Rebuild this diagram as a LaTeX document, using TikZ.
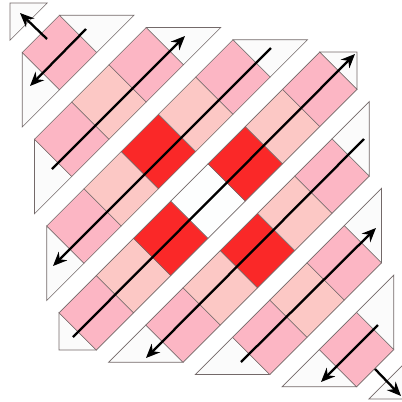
\documentclass[tikz,border=0pt]{standalone}
\usetikzlibrary{arrows.meta}
\definecolor{tricol}{RGB}{251,251,251}
\definecolor{pinkc}{RGB}{252,182,196}
\definecolor{peachc}{RGB}{252,200,197}
\definecolor{redc}{RGB}{250,40,40}
\definecolor{centerc}{RGB}{253,254,254}
\definecolor{edgec}{RGB}{115,105,105}
\tikzset{
  cell/.style={draw=edgec, line width=0.7pt, line join=miter},
  scanarrow/.style={draw=black, line width=2.3pt, -{Stealth[length=14pt,width=12pt]}},
}
\begin{document}
\begin{tikzpicture}[x=1pt,y=-1pt]
\useasboundingbox (0,0) rectangle (402,402);
\clip (0,0) rectangle (402,402);
\begin{scope}[shift={(10pt,-3pt)}, x={(37.25pt,0pt)}, y={(0pt,-37.25pt)}]
\foreach \i in {0,...,8}{
  \foreach \j in {0,...,8}{
    \pgfmathtruncatemacro\pp{mod(\i+\j,2)}
    \ifnum\pp=0\relax
      \pgfmathsetmacro\kk{(\i+\j)/2*12.25}
      \pgfmathtruncatemacro\ip{min(\i+1,8)}
      \pgfmathtruncatemacro\im{max(\i-1,0)}
      \pgfmathtruncatemacro\jp{min(\j+1,8)}
      \pgfmathtruncatemacro\jm{max(\j-1,0)}
      \pgfmathtruncatemacro\ctype{(\i==0||\i==8||\j==0||\j==8) ? 0 : ((\i==4&&\j==4) ? 3 : (((\i==3||\i==5)&&(\j==3||\j==5)) ? 2 : ((\i==1||\i==7||\j==1||\j==7) ? 1 : 4)))}
      \ifcase\ctype\relax
        \def\cellcol{tricol}\or
        \def\cellcol{pinkc}\or
        \def\cellcol{redc}\or
        \def\cellcol{centerc}\or
        \def\cellcol{peachc}\fi
      \filldraw[cell, fill=\cellcol, shift={(\kk pt,-\kk pt)}]
        (\ip,\j) -- (\i,\jp) -- (\im,\j) -- (\i,\jm) -- cycle;
    \fi
  }
}
\end{scope}
\foreach \n/\sx/\sy/\ex/\ey in {
  0/47/39/20/13,
  1/86/29/30/86,
  2/52/169/185/36,
  3/271/48/53/266,
  4/73/337/355/54,
  5/364/139/146/358,
  6/241/362/376/228,
  7/378/325/321/382,
  8/375/369/401/396}{
  \coordinate (s\n) at (\sx,\sy);
  \coordinate (e\n) at (\ex,\ey);
  \draw[scanarrow] (s\n) -- (e\n);
}
\end{tikzpicture}
\end{document}
